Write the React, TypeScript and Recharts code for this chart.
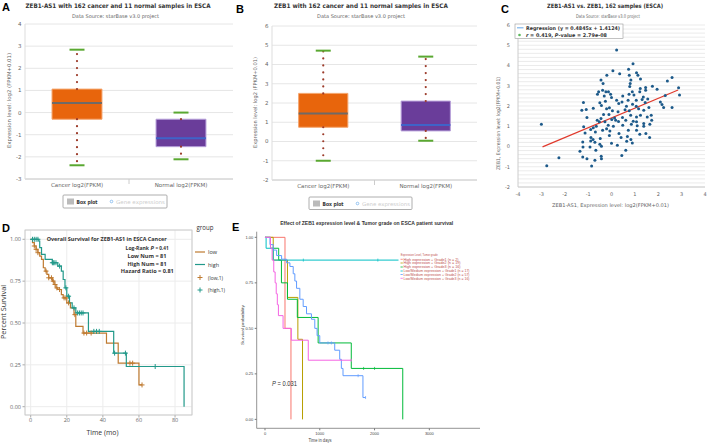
import React from "react";
import {
  ComposedChart,
  Scatter,
  Line,
  XAxis,
  YAxis,
  CartesianGrid,
  ReferenceArea,
  ReferenceLine,
} from "recharts";

// fonts
const HC = "'DejaVu Sans', Verdana, sans-serif";
const GG = "'Open Sans', 'Noto Sans', sans-serif";
const AR = "'Liberation Sans', Arial, sans-serif";

// ---- A: ZEB1-AS1, cancer vs normal (box stats)
const boxLabels = ["Cancer log2(FPKM)", "Normal log2(FPKM)"];
const asMin = [-2.38, -2.11];
const asQ1 = [-0.3, -1.54];
const asMed = [0.43, -1.16];
const asQ3 = [1.06, -0.3];
const asMax = [2.84, 0.0];
const asTicks = [-3, -2, -1, 0, 1, 2, 3, 4];

// ---- B: ZEB1, cancer vs normal
const zMin = [-1.0, 0.04];
const zQ1 = [0.74, 0.55];
const zMed = [1.46, 0.86];
const zQ3 = [2.5, 2.1];
const zMax = [4.72, 4.41];
const zTicks = [-2, -1, 0, 1, 2, 3, 4, 5, 6];

// ---- C: ZEB1-AS1 vs ZEB1 scatter
const corrAS1 = [
  0.22, 0.92, 0.06, 0.73, 1.07, 0.35, -0.2, 0.76, 1.13, -0.45, 0.83, 1.24, 1.75, 2.39, 2.59,
  -0.36, 0.8, -0.38, -0.55, 0.78, 1.23, 1.46, 1.95, 2.87, -0.24, -0.13, -0.04, 0.89, 1.21, 1.46,
  -0.6, -0.31, 0.0, 0.48, 0.75, 0.96, 1.36, 2.3, 2.91, 0.22, 0.45, 0.71, 1.06, 1.31, 1.55, 2.09,
  -1.2, -0.78, -1.27, -1.08, -0.5, -0.43, -0.26, -0.09, 0.31, 0.64, 0.9, 1.06, 1.44, 1.6, 2.16,
  2.23, 2.59, -0.21, 0.04, 0.28, 0.58, 0.76, 1.16, 1.38, 1.7, -1.05, -0.45, -0.34, -0.11, 0.13,
  0.47, 0.82, 1.07, 1.24, 1.53, 1.72, -0.61, -0.52, -0.28, 0.01, 0.18, 0.3, 0.61, 0.93, 1.07,
  1.38, -1.19, -0.78, -0.65, -0.14, 0.08, 0.48, 0.85, 1.1, 1.38, 1.64, -1.13, -0.89, -0.69,
  -0.38, -0.21, -0.07, 0.32, 0.72, 1.07, 1.21, 1.47, -0.88, -0.79, -0.48, -0.09, 0.41, 0.68,
  0.83, 1.63, -1.23, -0.89, -0.71, -0.5, 0.0, 0.25, 0.65, 0.89, -1.22, -0.92, -0.43, -1.35,
  -0.67, 0.61, -1.23, -1.05, -0.44, -0.43, 0.44, -0.71, -2.25, -0.85, -2.77, -3.0,
];
const corrZEB1 = [
  4.76, 4.09, 3.74, 3.81, 3.64, 3.59, 3.52, 3.52, 3.52, 3.28, 3.28, 3.33, 2.98, 3.23, 3.41,
  3.11, 3.11, 2.78, 2.7, 2.96, 2.86, 2.91, 2.83, 2.9, 2.7, 2.7, 2.58, 2.7, 2.7, 2.78,
  2.58, 2.49, 2.42, 2.49, 2.58, 2.54, 2.45, 2.52, 2.54, 2.29, 2.2, 2.29, 2.29, 2.32, 2.35, 2.2,
  2.17, 1.89, 1.79, 1.83, 2.16, 2.02, 2.24, 1.91, 2.12, 1.99, 2.09, 1.99, 2.17, 1.92, 2.07,
  1.92, 1.92, 1.86, 1.76, 1.71, 1.81, 1.76, 1.87, 1.79, 1.54, 1.43, 1.38, 1.58, 1.58, 1.41,
  1.43, 1.54, 1.46, 1.54, 1.46, 1.3, 1.3, 1.22, 1.22, 1.33, 1.3, 1.23, 1.3, 1.25, 1.22,
  1.13, 0.97, 0.92, 1.0, 1.05, 1.0, 1.05, 1.1, 1.02, 1.0, 1.1, 0.67, 0.84, 0.72,
  0.8, 0.88, 0.77, 0.64, 0.8, 0.8, 0.6, 0.64, 0.44, 0.34, 0.39, 0.54, 0.44, 0.5,
  0.34, 0.44, 0.22, 0.27, 0.21, 0.11, 0.16, 0.06, 0.26, 0.17, -0.02, -0.02, 0.01, -0.24,
  -0.19, -0.19, -0.52, -0.6, -0.48, -0.6, -0.44, -0.68, -0.55, -0.96, -0.95, 1.1,
];
const regSlope = 0.4845;
const regIntercept = 1.4124;
const regFrom = -2.95;
const regTo = 2.85;

// ---- D: KM curves ZEB1-AS1 low / high (months)
const lowTime = [0, 1, 2, 3, 4, 5, 6, 7, 8, 9, 10, 12, 13, 14, 15, 17, 18, 20, 22, 24, 25, 29, 42, 48.5, 60, 61.7];
const lowSurv = [1, 0.98, 0.96, 0.94, 0.92, 0.9, 0.88, 0.83, 0.81, 0.79, 0.77, 0.75, 0.73, 0.71, 0.7, 0.67, 0.65, 0.62, 0.59, 0.55, 0.48, 0.44, 0.38, 0.26, 0.13, 0.13];
const highTime = [0, 4.5, 5, 6, 8, 12, 15, 17, 18, 19, 20, 21.5, 23, 25, 32, 46, 53, 85];
const highSurv = [1, 0.99, 0.95, 0.91, 0.88, 0.86, 0.84, 0.81, 0.76, 0.71, 0.66, 0.62, 0.59, 0.56, 0.45, 0.32, 0.24, 0];
const lowCensT = [2, 3, 4, 8.5, 10, 11.5, 12.5, 13.5, 14.5, 16, 18.5, 19.5, 21, 24.5, 29.5, 31, 33.5, 55, 56.5, 61.7];
const lowCensS = [0.96, 0.94, 0.92, 0.81, 0.77, 0.77, 0.75, 0.73, 0.71, 0.7, 0.65, 0.65, 0.62, 0.55, 0.44, 0.44, 0.44, 0.26, 0.26, 0.13];
const highCensT = [1, 2, 3, 4, 12, 12.5, 13, 14, 16, 19.5, 21, 24, 26, 27, 28, 29, 35, 36.5, 38, 46.5, 52.5, 69];
const highCensS = [1, 1, 1, 1, 0.86, 0.86, 0.86, 0.86, 0.84, 0.71, 0.66, 0.59, 0.56, 0.56, 0.56, 0.56, 0.45, 0.45, 0.45, 0.32, 0.32, 0.24];

// ---- E: KM curves by ZEB1 expression & grade (days)
const eGroups = [
  "High expression + Grade1 (n = 2)",
  "High expression + Grade2 (n = 19)",
  "High expression + Grade3 (n = 16)",
  "Low/Medium expression + Grade1 (n = 17)",
  "Low/Medium expression + Grade2 (n = 57)",
  "Low/Medium expression + Grade3 (n = 16)",
];
const eTimes = [
  [0, 365, 474],
  [0, 150, 410, 600, 685],
  [0, 100, 250, 300, 410, 590, 970, 1575, 2515],
  [0, 20, 150, 3700],
  [0, 91, 150, 212, 303, 394, 455, 515, 545, 576, 636, 697, 758, 848, 909, 951, 1000, 1273, 1364, 1394, 1424, 1788, 1836],
  [0, 100, 130, 160, 185, 205, 225, 245, 330, 480, 790, 1575],
];
const eSurv = [
  [1, 0.5, 0],
  [1, 0.875, 0.67, 0.44, 0],
  [1, 0.94, 0.875, 0.75, 0.66, 0.56, 0.42, 0.28, 0],
  [1, 0.94, 0.875, 0.875],
  [1, 0.96, 0.93, 0.9, 0.88, 0.86, 0.84, 0.8, 0.76, 0.72, 0.66, 0.62, 0.58, 0.55, 0.5, 0.46, 0.42, 0.38, 0.33, 0.28, 0.24, 0.12, 0.12],
  [1, 0.94, 0.875, 0.81, 0.75, 0.69, 0.63, 0.57, 0.5, 0.435, 0.325, 0.325],
];
const eCensT = [[], [], [1800, 2000], [700, 2060, 3700], [1150, 1212, 1700, 1836], [1575]];
const eCensS = [[], [], [0.28, 0.28], [0.875, 0.875, 0.875], [0.42, 0.42, 0.24, 0.12], [0.325]];
const eColors = ["#F8766D", "#B79F00", "#00BA38", "#00BFC4", "#619CFF", "#F564E3"];

const LOW = "#BF7A30";
const HIGH = "#22998A";

const boxFill = ["#E8650C", "#6A3D9A"];
const boxEdge = ["#F4A46C", "#B7A0DA"];
const medColor = ["#6E6A66", "#3F63C8"];

const capShape = (p: any) => (
  <line x1={p.cx - 7.5} x2={p.cx + 7.5} y1={p.cy} y2={p.cy} stroke="#5AA831" strokeWidth={2} />
);

const BoxTick = (props: any) => {
  const { x, y, payload } = props;
  if (payload.value === 1) {
    return <line x1={x} x2={x} y1={y - 4} y2={y + 1} stroke="#cccccc" />;
  }
  return (
    <text x={x} y={y} dy="0.71em" textAnchor="middle" fontSize={5.5} fill="#666" fontFamily={HC}>
      {boxLabels[payload.value < 1 ? 0 : 1]}
    </text>
  );
};

const BoxPanel = ({ mins, q1s, meds, q3s, maxs, width, margin, yDomain, yTicks }: any) => {
  const half = 0.24;
  const caps = mins.flatMap((m: number, i: number) => [
    { x: i + 0.5, y: m },
    { x: i + 0.5, y: maxs[i] },
  ]);
  const parts = mins.flatMap((m: number, i: number) => {
    const c = i + 0.5;
    return [
      <ReferenceArea key={"b" + i} x1={c - half} x2={c + half} y1={q1s[i]} y2={q3s[i]}
        fill={boxFill[i]} fillOpacity={1} stroke={boxEdge[i]} strokeWidth={1} />,
      <ReferenceLine key={"m" + i} segment={[{ x: c - half, y: meds[i] }, { x: c + half, y: meds[i] }]}
        stroke={medColor[i]} strokeWidth={2} />,
      <ReferenceLine key={"u" + i} segment={[{ x: c, y: q3s[i] }, { x: c, y: maxs[i] }]}
        stroke="#9C3B2A" strokeWidth={2.2} strokeDasharray="0 7" strokeLinecap="round" />,
      <ReferenceLine key={"l" + i} segment={[{ x: c, y: q1s[i] }, { x: c, y: m }]}
        stroke="#9C3B2A" strokeWidth={2.2} strokeDasharray="0 7" strokeLinecap="round" />,
    ];
  });
  return (
    <ComposedChart width={width} height={215} margin={margin}>
      <CartesianGrid vertical={false} stroke="#e6e6e6" />
      <XAxis type="number" dataKey="x" domain={[0, 2]} ticks={[0.5, 1, 1.5]} interval={0}
        tick={<BoxTick />} tickLine={false} axisLine={{ stroke: "#cccccc" }} height={14}
        tickSize={4} tickMargin={0} allowDataOverflow />
      <YAxis type="number" dataKey="y" domain={yDomain} ticks={yTicks} interval={0} width={20}
        tickLine={false} axisLine={{ stroke: "#dddddd" }} tickSize={2} tickMargin={1.5}
        tick={{ fontSize: 5.5, fill: "#666", fontFamily: HC }} allowDataOverflow />
      {parts}
      <Scatter data={caps} isAnimationActive={false} shape={capShape} />
    </ComposedChart>
  );
};

const plusShape = (color: string) => (p: any) => (
  <g stroke={color} strokeWidth={1}>
    <line x1={p.cx - 2.5} x2={p.cx + 2.5} y1={p.cy} y2={p.cy} />
    <line x1={p.cx} x2={p.cx} y1={p.cy - 2.5} y2={p.cy + 2.5} />
  </g>
);

const tickShape = (color: string) => (p: any) => (
  <line x1={p.cx} x2={p.cx} y1={p.cy - 1.5} y2={p.cy + 1.5} stroke={color} strokeWidth={0.7} />
);

const dotShape = (p: any) => <circle cx={p.cx} cy={p.cy} r={1.5} fill="#1D5A8A" />;

const Txt = ({ x, y, size, len, anchor = "start", weight = 400, fill = "#333", font = HC, rotate = false, italic = false, children }: any) => (
  <text x={x} y={y} fontSize={size} fontWeight={weight} fill={fill} fontFamily={font}
    textAnchor={anchor} fontStyle={italic ? "italic" : undefined}
    textLength={len} lengthAdjust={len ? "spacingAndGlyphs" : undefined}
    transform={rotate ? `rotate(-90 ${x} ${y})` : undefined}>
    {children}
  </text>
);

const minorY = Array.from({ length: 41 }, (_, i) => Math.round((-2 + i * 0.2) * 10) / 10);

export default function App() {
  const corrRows = corrAS1.map((x, i) => ({ x, y: corrZEB1[i] }));
  const regRows = [regFrom, regTo].map((x) => ({ x, y: regSlope * x + regIntercept }));
  const lowRows = lowTime.map((t, i) => ({ t, s: lowSurv[i] }));
  const highRows = highTime.map((t, i) => ({ t, s: highSurv[i] }));
  const lowCens = lowCensT.map((t, i) => ({ t, s: lowCensS[i] }));
  const highCens = highCensT.map((t, i) => ({ t, s: highCensS[i] }));
  const eRows = eTimes.map((ts, g) => ts.map((t, i) => ({ t, s: eSurv[g][i] })));
  const eCens = eCensT.map((ts, g) => ts.map((t, i) => ({ t, s: eCensS[g][i] })));

  const abs = (left: number, top: number): React.CSSProperties => ({ position: "absolute", left, top });

  return (
    <div style={{ position: "absolute", left: 0, top: 0, width: 709, height: 443, background: "#fff", overflow: "hidden" }}>
      {/* A */}
      <div style={abs(0, 0)}>
        <BoxPanel mins={asMin} q1s={asQ1} meds={asMed} q3s={asQ3} maxs={asMax} width={235}
          margin={{ top: 24, right: 2, bottom: 22, left: 5 }} yDomain={[-3, 4]} yTicks={asTicks} />
      </div>
      {/* B */}
      <div style={abs(235, 0)}>
        <BoxPanel mins={zMin} q1s={zQ1} meds={zMed} q3s={zQ3} maxs={zMax} width={243}
          margin={{ top: 26, right: 1, bottom: 21, left: 17 }} yDomain={[-2, 6]} yTicks={zTicks} />
      </div>
      {/* C */}
      <div style={abs(470, 0)}>
        <ComposedChart width={239} height={215} margin={{ top: 25, right: 4, bottom: 16, left: 28 }}>
          {minorY.map((v) => (
            <ReferenceLine key={v} y={v} stroke="#e3e3e3" strokeWidth={0.7} />
          ))}
          <XAxis type="number" dataKey="x" domain={[-4, 4]} ticks={[-4, -3, -2, -1, 0, 1, 2, 3, 4]}
            interval={0} tickLine={false} axisLine={{ stroke: "#cccccc" }} height={12}
            tickSize={3} tickMargin={2} tick={{ fontSize: 5, fill: "#666", fontFamily: HC }} allowDataOverflow />
          <YAxis type="number" dataKey="y" domain={[-2, 6]} ticks={[-2, -1, 0, 1, 2, 3, 4, 5, 6]}
            interval={0} width={20} tickLine={false} axisLine={{ stroke: "#cccccc" }}
            tickSize={4} tickMargin={4} tick={{ fontSize: 5, fill: "#666", fontFamily: HC }} allowDataOverflow />
          <Scatter data={corrRows} isAnimationActive={false} shape={dotShape} />
          <Line data={regRows} dataKey="y" type="linear" stroke="#E0392C" strokeWidth={1.2}
            dot={false} isAnimationActive={false} />
        </ComposedChart>
      </div>
      {/* D */}
      <div style={abs(0, 215)}>
        <ComposedChart width={240} height={228} margin={{ top: 15, right: 48, bottom: 16, left: 3 }}>
          <CartesianGrid stroke="#ececec" />
          <XAxis type="number" dataKey="t" domain={[-3.16, 89.4]} ticks={[0, 20, 40, 60, 80]} interval={0}
            height={12} axisLine={false} tickLine={{ stroke: "#aaa" }} tickSize={2.5} tickMargin={0.5}
            tick={{ fontSize: 5.5, fill: "#666", fontFamily: GG }} allowDataOverflow />
          <YAxis type="number" dataKey="s" domain={[-0.0496, 1.0556]} ticks={[0, 0.25, 0.5, 0.75, 1]}
            interval={0} width={22} axisLine={false} tickLine={{ stroke: "#aaa" }} tickSize={2.5} tickMargin={1.5}
            tickFormatter={(v: number) => v.toFixed(2)} tick={{ fontSize: 5.5, fill: "#666", fontFamily: GG }} allowDataOverflow />
          <Line data={lowRows} dataKey="s" type="stepAfter" stroke={LOW} strokeWidth={1.2} dot={false} isAnimationActive={false} />
          <Line data={highRows} dataKey="s" type="stepAfter" stroke={HIGH} strokeWidth={1.2} dot={false} isAnimationActive={false} />
          <Scatter data={lowCens} isAnimationActive={false} shape={plusShape(LOW)} />
          <Scatter data={highCens} isAnimationActive={false} shape={plusShape(HIGH)} />
        </ComposedChart>
      </div>
      {/* E */}
      <div style={abs(240, 215)}>
        <ComposedChart width={250} height={228} margin={{ top: 16.7, right: 10, bottom: 6.7, left: 2.7 }}>
          <XAxis type="number" dataKey="t" domain={[-151.5, 3925]} ticks={[0, 1000, 2000, 3000]} interval={0}
            height={8} axisLine={{ stroke: "#777", strokeWidth: 0.8 }} tickLine={{ stroke: "#777" }}
            tickSize={2} tickMargin={1.5} tick={{ fontSize: 4, fill: "#444", fontFamily: AR }} allowDataOverflow />
          <YAxis type="number" dataKey="s" domain={[-0.049, 1.031]} ticks={[0, 0.25, 0.5, 0.75, 1]} interval={0}
            width={14} axisLine={{ stroke: "#777", strokeWidth: 0.8 }} tickLine={{ stroke: "#777" }}
            tickSize={2} tickMargin={1.4} tickFormatter={(v: number) => v.toFixed(2)}
            tick={{ fontSize: 4, fill: "#444", fontFamily: AR }} allowDataOverflow />
          {eRows.map((rows, g) => (
            <Line key={"e" + g} data={rows} dataKey="s" type="stepAfter" stroke={eColors[g]} strokeWidth={1}
              dot={false} isAnimationActive={false} />
          ))}
          {eCens.map((rows, g) => (
            <Scatter key={"c" + g} data={rows} isAnimationActive={false} shape={tickShape(eColors[g])} />
          ))}
        </ComposedChart>
      </div>

      {/* texts, legends, frames */}
      <svg width={709} height={443} style={{ position: "absolute", left: 0, top: 0, pointerEvents: "none" }}>
        {/* A */}
        <Txt x={2} y={11} size={11} weight={700} fill="#000" font={AR}>A</Txt>
        <Txt x={118} y={7.5} size={6.2} weight={700} len={185} anchor="middle">ZEB1-AS1 with 162 cancer and 11 normal samples in ESCA</Txt>
        <Txt x={115.5} y={17.5} size={5.2} len={87} anchor="middle" fill="#666">Data Source: starBase v3.0 project</Txt>
        <Txt x={11} y={100.5} size={5.2} len={95} anchor="middle" fill="#666" rotate>Expression level: log2 (FPKM+0.01)</Txt>
        <rect x={63} y={195} width={104} height={13} fill="#fff" stroke="#999" strokeWidth={0.8} rx={1} />
        <rect x={67} y={198.5} width={7} height={6} fill="#bbb" />
        <Txt x={76.5} y={204} size={5.5} weight={700} len={21}>Box plot</Txt>
        <circle cx={111.5} cy={201.5} r={1.3} fill="none" stroke="#7CB5EC" strokeWidth={0.8} />
        <Txt x={116} y={204} size={5.2} len={49} fill="#cccccc">Gene expressions</Txt>

        {/* B */}
        <Txt x={236} y={13} size={11} weight={700} fill="#000" font={AR}>B</Txt>
        <Txt x={361} y={7.5} size={6.2} weight={700} len={174} anchor="middle">ZEB1 with 162 cancer and 11 normal samples in ESCA</Txt>
        <Txt x={361} y={18} size={5.2} len={88} anchor="middle" fill="#666">Data Source: starBase v3.0 project</Txt>
        <Txt x={257} y={102.5} size={5.2} len={91} anchor="middle" fill="#666" rotate>Expression level: log2 (FPKM+0.01)</Txt>
        <rect x={309} y={197} width={103} height={12.5} fill="#fff" stroke="#999" strokeWidth={0.8} rx={1} />
        <rect x={313} y={200.5} width={7} height={6} fill="#bbb" />
        <Txt x={322.5} y={206} size={5.5} weight={700} len={21}>Box plot</Txt>
        <circle cx={357.5} cy={203.5} r={1.3} fill="none" stroke="#7CB5EC" strokeWidth={0.8} />
        <Txt x={362} y={206} size={5.2} len={48} fill="#cccccc">Gene expressions</Txt>

        {/* C */}
        <Txt x={501} y={12.5} size={11} weight={700} fill="#000" font={AR}>C</Txt>
        <Txt x={605} y={7.5} size={6} weight={700} len={116} anchor="middle">ZEB1-AS1 vs. ZEB1, 162 samples (ESCA)</Txt>
        <Txt x={608} y={17.5} size={5} len={64} anchor="middle" fill="#666">Data Source: starBase v3.0 project</Txt>
        <Txt x={500} y={123.5} size={5} len={93} anchor="middle" fill="#666" rotate>ZEB1, Expression level: log2(FPKM+0.01)</Txt>
        <Txt x={610.5} y={207} size={5} len={117} anchor="middle" fill="#666">ZEB1-AS1, Expression level: log2(FPKM+0.01)</Txt>
        <rect x={515} y={24} width={108} height={14.5} fill="#fff" stroke="#999" strokeWidth={0.6} />
        <line x1={517} x2={523.5} y1={27.8} y2={27.8} stroke="#7CB5EC" strokeWidth={1.2} />
        <Txt x={526} y={29.6} size={5} weight={700} len={94}>Regression (y = 0.4845x + 1.4124)</Txt>
        <circle cx={519.5} cy={35} r={1.3} fill="#5CB85C" />
        <text x={526} y={36.8} fontSize={5} fontWeight={700} fill="#333" fontFamily={HC} textLength={81} lengthAdjust="spacingAndGlyphs">
          <tspan fontStyle="italic">r</tspan> = 0.419, <tspan fontStyle="italic">P</tspan>-value = 2.79e-08
        </text>

        {/* D */}
        <Txt x={2} y={232} size={11} weight={700} fill="#000" font={AR}>D</Txt>
        <rect x={25} y={230} width={167} height={185} fill="none" stroke="#c4c4c4" strokeWidth={0.8} />
        <Txt x={106.7} y={240.5} size={5.4} weight={700} len={120} anchor="middle" font={GG}>Overall Survival for ZEB1-AS1 in ESCA Cancer</Txt>
        <Txt x={125.5} y={250} size={5.4} weight={700} len={23.5} font={GG}>Log-Rank</Txt>
        <Txt x={150.6} y={250} size={5.4} weight={700} len={3.4} font={GG} italic>P</Txt>
        <Txt x={155.4} y={250} size={5.4} weight={700} len={13.2} font={GG}>= 0.41</Txt>
        <Txt x={147} y={257.8} size={5.4} weight={700} len={39} anchor="middle" font={GG}>Low Num = 81</Txt>
        <Txt x={147} y={265.6} size={5.4} weight={700} len={39} anchor="middle" font={GG}>High Num = 81</Txt>
        <Txt x={147.3} y={273.4} size={5.4} weight={700} len={53} anchor="middle" font={GG}>Hazard Ratio = 0.81</Txt>
        <Txt x={5.5} y={312} size={7} len={54} anchor="middle" font={GG} rotate>Percent Survival</Txt>
        <Txt x={102.5} y={434.5} size={7} len={32} anchor="middle" font={GG}>Time (mo)</Txt>
        <Txt x={196.5} y={229.5} size={6.5} len={17} font={GG}>group</Txt>
        <line x1={195} x2={205} y1={252} y2={252} stroke={LOW} strokeWidth={1.2} />
        <Txt x={208} y={254} size={5.5} len={9} font={GG}>low</Txt>
        <line x1={195} x2={205} y1={264.5} y2={264.5} stroke={HIGH} strokeWidth={1.2} />
        <Txt x={208} y={266.5} size={5.5} len={11} font={GG}>high</Txt>
        {plusShape(LOW)({ cx: 200, cy: 277.5 })}
        <Txt x={208} y={279.5} size={5.5} len={15} font={GG}>(low,1)</Txt>
        {plusShape(HIGH)({ cx: 200, cy: 290 })}
        <Txt x={208} y={292} size={5.5} len={17} font={GG}>(high,1)</Txt>

        {/* E */}
        <Txt x={232} y={231} size={11} weight={700} fill="#000" font={AR}>E</Txt>
        <Txt x={366.7} y={225} size={5.5} weight={700} len={173} anchor="middle" font={AR}>Effect of ZEB1 expression level &amp; Tumor grade on ESCA patient survival</Txt>
        <Txt x={244} y={325} size={4} len={40} anchor="middle" font={AR} fill="#444" rotate>Survival probability</Txt>
        <Txt x={320} y={441.5} size={4.5} len={23} anchor="middle" font={AR} fill="#444">Time in days</Txt>
        <text x={272} y={386} fontSize={7.5} fill="#333" fontFamily={AR} textLength={25} lengthAdjust="spacingAndGlyphs">
          <tspan fontStyle="italic">P</tspan> = 0.031
        </text>
        <rect x={398.5} y={251} width={73} height={30} fill="#fff" />
        <Txt x={400.7} y={256.3} size={3.5} len={37} font={AR} fill="#C0504D">Expression Level, Tumor grade</Txt>
        {eGroups.map((g, i) => {
          const yy = [259.3, 263, 267, 271, 274.5, 278.3][i];
          return (
            <g key={g}>
              <line x1={400.5} x2={402.8} y1={yy} y2={yy} stroke={eColors[i]} strokeWidth={0.8} />
              <Txt x={403.5} y={yy + 1.2} size={3.4} len={i < 3 ? 55 + (i > 0 ? 2 : 0) : 66} font={AR} fill="#C0504D">{g}</Txt>
            </g>
          );
        })}
      </svg>
    </div>
  );
}
